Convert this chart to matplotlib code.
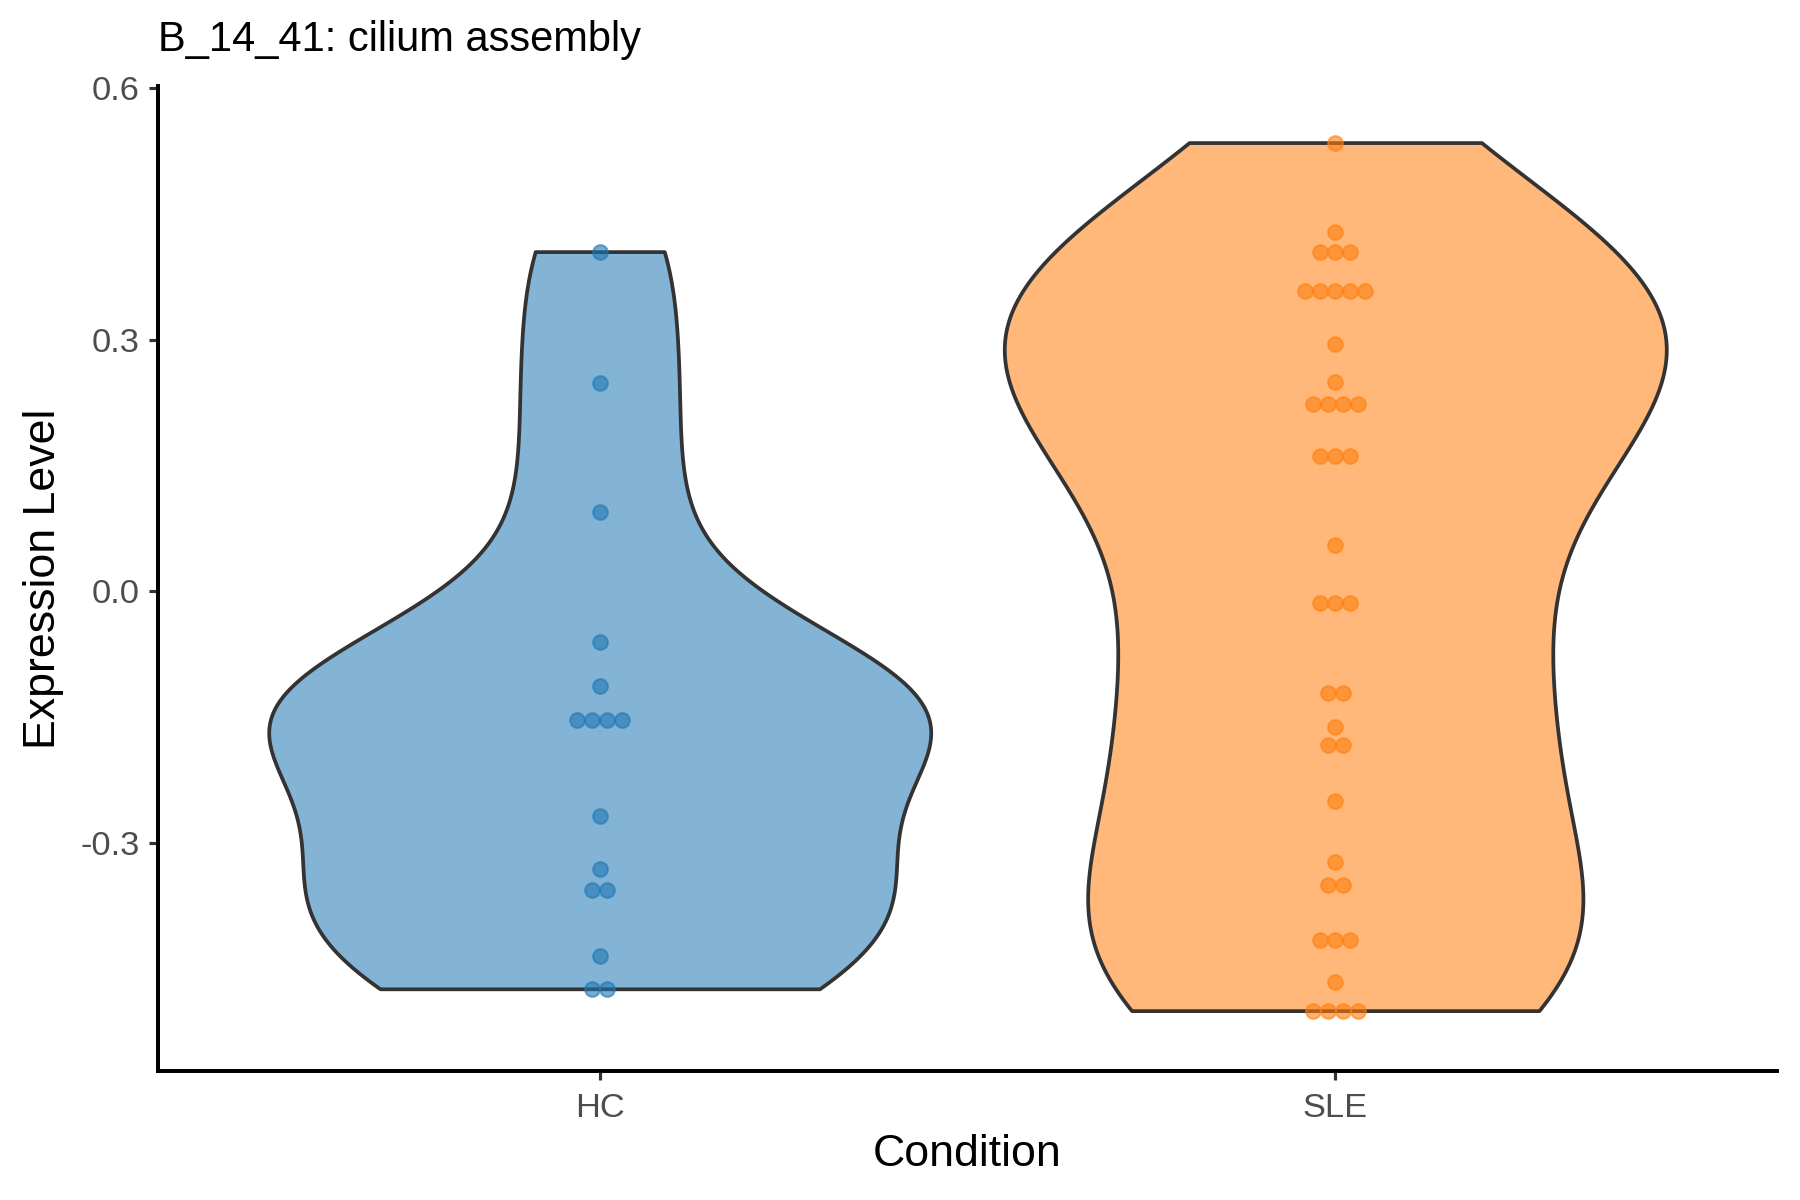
import numpy as np
import matplotlib
matplotlib.use("Agg")
import matplotlib.pyplot as plt
import matplotlib.colors as mcolors

plt.rcParams['font.family'] = ['Liberation Sans', 'DejaVu Sans']
plt.rcParams['axes.unicode_minus'] = False

TITLE = 'B_14_41: cilium assembly'
conditions = ['HC', 'SLE']
colors = ['#1f77b4', '#ff7f0e']

hc_values = [0.405, 0.248, 0.094, -0.060, -0.113,
             -0.153, -0.153, -0.153, -0.153,
             -0.268, -0.331, -0.356, -0.356, -0.435, -0.474, -0.474]
sle_values = [0.535, 0.428, 0.405, 0.405, 0.405,
              0.358, 0.358, 0.358, 0.358, 0.358,
              0.295, 0.249, 0.223, 0.223, 0.223, 0.223,
              0.161, 0.161, 0.161, 0.055,
              -0.014, -0.014, -0.014, -0.121, -0.121, -0.162, -0.183, -0.183,
              -0.250, -0.323, -0.350, -0.350, -0.416, -0.416, -0.416,
              -0.466, -0.500, -0.500, -0.500, -0.500]
y_ticks = [-0.3, 0.0, 0.3, 0.6]
y_tick_labels = ['-0.3', '0.0', '0.3', '0.6']


def nrd0(kde):
    # R's default bandwidth (bw.nrd0), as a factor of the sample sd
    d = np.asarray(kde.dataset).ravel()
    sd = d.std(ddof=1)
    q75, q25 = np.percentile(d, [75, 25])
    lo = min(sd, (q75 - q25) / 1.34)
    return 0.9 * lo * len(d) ** -0.2 / sd


def stack_offsets(values, dx):
    vals = np.asarray(values)
    offs = np.zeros(len(vals))
    for v in np.unique(vals):
        idx = np.where(vals == v)[0]
        n = len(idx)
        offs[idx] = (np.arange(n) - (n - 1) / 2) * dx
    return offs


fig, ax = plt.subplots(figsize=(12, 8), dpi=150)
fig.subplots_adjust(left=0.088, right=0.987, bottom=0.1075, top=0.928)

data = [hc_values, sle_values]
positions = np.arange(1, len(conditions) + 1)
parts = ax.violinplot(data, positions=positions, widths=0.9, showextrema=False,
                      points=512, bw_method=nrd0)
for body, c in zip(parts['bodies'], colors):
    body.set_alpha(None)
    body.set_facecolor(mcolors.to_rgba(c, 0.55))
    body.set_edgecolor('#333333')
    body.set_linewidth(1.8)
    body.set_zorder(1)

for pos, vals, c in zip(positions, data, colors):
    xs = pos + stack_offsets(vals, 0.0205)
    ax.scatter(xs, vals, s=50, color=c, alpha=0.6, edgecolors=c,
               linewidths=1.0, zorder=3)

ax.set_xlim(0.4, 2.6)
ax.set_ylim(-0.572, 0.602)
ax.set_xticks(positions)
ax.set_xticklabels(conditions)
ax.set_yticks(y_ticks)
ax.set_yticklabels(y_tick_labels)

for side in ['top', 'right']:
    ax.spines[side].set_visible(False)
for side in ['left', 'bottom']:
    ax.spines[side].set_linewidth(1.9)
    ax.spines[side].set_color('black')
ax.tick_params(axis='both', length=4.5, width=1.5, color='#333333',
               labelsize=16.5, labelcolor='#4D4D4D', pad=4.5)
ax.tick_params(axis='x', pad=6)

ax.set_xlabel('Condition', fontsize=21.5, labelpad=5)
ax.set_ylabel('Expression Level', fontsize=21.5, labelpad=8)
ax.set_title(TITLE, loc='left', fontsize=20, pad=17)

fig.savefig('out.png', dpi=150)
